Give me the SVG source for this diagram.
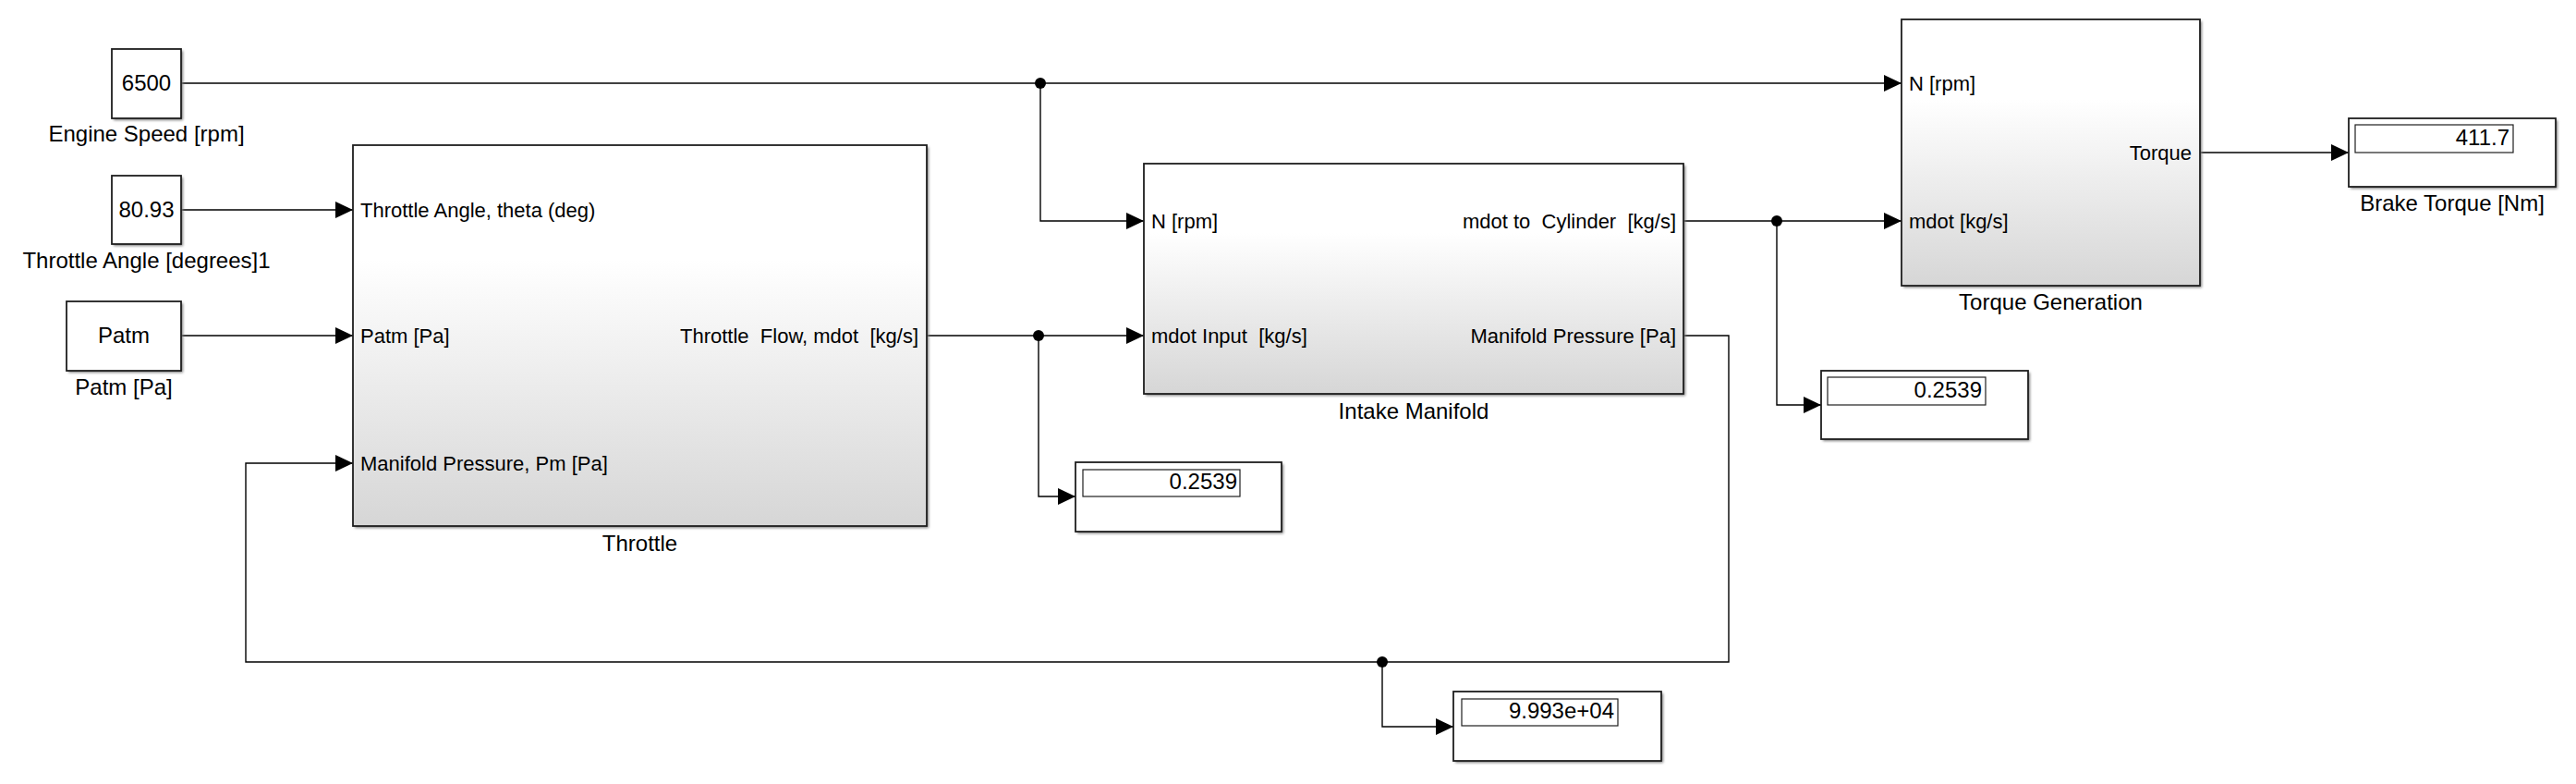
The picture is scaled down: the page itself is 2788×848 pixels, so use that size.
<svg xmlns="http://www.w3.org/2000/svg" width="2788" height="848" viewBox="0 0 2788 848">
<style>
text{font-family:"Liberation Sans",Arial,Helvetica,sans-serif;fill:#000;white-space:pre}
.blk{stroke:#1e1e1e;stroke-width:1.8;fill:url(#g)}
.box{stroke:#1e1e1e;stroke-width:1.8;fill:#fff}
.inner{stroke:#1e1e1e;stroke-width:1.2;fill:#fff}
.sh{fill:#7a7a7a;filter:url(#blur)}
.lbl{font-size:24px;text-anchor:middle}
.port{font-size:22px}
.pr{font-size:22px;text-anchor:end}
.val{font-size:24px;text-anchor:middle}
.dv{font-size:24px;text-anchor:end}
.ln{fill:none;stroke:#000;stroke-width:1.4;marker-end:url(#arr)}
.lnn{fill:none;stroke:#000;stroke-width:1.4}
.dot{fill:#000}
</style>
<defs>
<linearGradient id="g" x1="0" y1="0" x2="0" y2="1">
<stop offset="0" stop-color="#ffffff"/>
<stop offset="0.3" stop-color="#ffffff"/>
<stop offset="1" stop-color="#d6d6d6"/>
</linearGradient>
<filter id="blur" x="-5%" y="-5%" width="110%" height="110%"><feGaussianBlur stdDeviation="1.5"/></filter>
<marker id="arr" markerUnits="userSpaceOnUse" markerWidth="20" markerHeight="20" refX="19" refY="9" orient="auto" viewBox="0 0 20 18">
<path d="M0,0 L19,9 L0,18 Z" fill="#000"/>
</marker>
</defs>
<rect x="0" y="0" width="2788" height="848" fill="#fff"/>

<g id="connectors">
<path class="ln" d="M196,90 H2058"/>
<path class="ln" d="M1126,90 V239 H1238"/>
<path class="ln" d="M196,227 H382"/>
<path class="ln" d="M196,363 H382"/>
<path class="ln" d="M1003,363 H1238"/>
<path class="ln" d="M1124,363 V537 H1164"/>
<path class="ln" d="M1822,239 H2058"/>
<path class="ln" d="M1923,239 V438 H1971"/>
<path class="ln" d="M1822,363 H1871 V716 H266 V501 H382"/>
<path class="ln" d="M1496,716 V786 H1573"/>
<path class="ln" d="M2381,165 H2542"/>
<circle class="dot" cx="1126" cy="90" r="6"/>
<circle class="dot" cx="1124" cy="363" r="6"/>
<circle class="dot" cx="1923" cy="239" r="6"/>
<circle class="dot" cx="1496" cy="716" r="6"/>
</g>

<g id="engine-speed">
<rect class="sh" x="123" y="55" width="75" height="75"/>
<rect class="box" x="121" y="53" width="75" height="75"/>
<text class="val" x="158.5" y="98">6500</text>
<text class="lbl" x="158.5" y="153">Engine Speed [rpm]</text>
</g>

<g id="throttle-angle">
<rect class="sh" x="123" y="192" width="75" height="74"/>
<rect class="box" x="121" y="190" width="75" height="74"/>
<text class="val" x="158.5" y="235">80.93</text>
<text class="lbl" x="158.5" y="290">Throttle Angle [degrees]1</text>
</g>

<g id="patm">
<rect class="sh" x="74" y="328" width="124" height="75"/>
<rect class="box" x="72" y="326" width="124" height="75"/>
<text class="val" x="134" y="371">Patm</text>
<text class="lbl" x="134" y="427">Patm [Pa]</text>
</g>

<g id="throttle">
<rect class="sh" x="384" y="159" width="621" height="412"/>
<rect class="blk" x="382" y="157" width="621" height="412"/>
<text class="port" x="390" y="235">Throttle Angle, theta (deg)</text>
<text class="port" x="390" y="371">Patm [Pa]</text>
<text class="port" x="390" y="509">Manifold Pressure, Pm [Pa]</text>
<text class="pr" x="994" y="371">Throttle  Flow, mdot  [kg/s]</text>
<text class="lbl" x="692.5" y="596">Throttle</text>
</g>

<g id="intake-manifold">
<rect class="sh" x="1240" y="179" width="584" height="249"/>
<rect class="blk" x="1238" y="177" width="584" height="249"/>
<text class="port" x="1246" y="247">N [rpm]</text>
<text class="port" x="1246" y="371">mdot Input  [kg/s]</text>
<text class="pr" x="1814" y="247">mdot to  Cylinder  [kg/s]</text>
<text class="pr" x="1814" y="371">Manifold Pressure [Pa]</text>
<text class="lbl" x="1530" y="453">Intake Manifold</text>
</g>

<g id="torque-generation">
<rect class="sh" x="2060" y="23" width="323" height="288"/>
<rect class="blk" x="2058" y="21" width="323" height="288"/>
<text class="port" x="2066" y="98">N [rpm]</text>
<text class="port" x="2066" y="247">mdot [kg/s]</text>
<text class="pr" x="2372" y="173">Torque</text>
<text class="lbl" x="2219.5" y="335">Torque Generation</text>
</g>

<g id="brake-torque">
<rect class="sh" x="2544" y="130" width="224" height="74"/>
<rect class="box" x="2542" y="128" width="224" height="74"/>
<rect class="inner" x="2549" y="135" width="171" height="30"/>
<text class="dv" x="2716" y="157">411.7</text>
<text class="lbl" x="2654" y="228">Brake Torque [Nm]</text>
</g>

<g id="display-throttle-flow">
<rect class="sh" x="1166" y="502" width="223" height="75"/>
<rect class="box" x="1164" y="500" width="223" height="75"/>
<rect class="inner" x="1172" y="508" width="170" height="29"/>
<text class="dv" x="1339" y="529">0.2539</text>
</g>

<g id="display-cylinder-flow">
<rect class="sh" x="1973" y="403" width="224" height="74"/>
<rect class="box" x="1971" y="401" width="224" height="74"/>
<rect class="inner" x="1978" y="408" width="171" height="30"/>
<text class="dv" x="2145" y="430">0.2539</text>
</g>

<g id="display-manifold-pressure">
<rect class="sh" x="1575" y="750" width="225" height="75"/>
<rect class="box" x="1573" y="748" width="225" height="75"/>
<rect class="inner" x="1582" y="756" width="169" height="29"/>
<text class="dv" x="1747" y="777">9.993e+04</text>
</g>
</svg>
